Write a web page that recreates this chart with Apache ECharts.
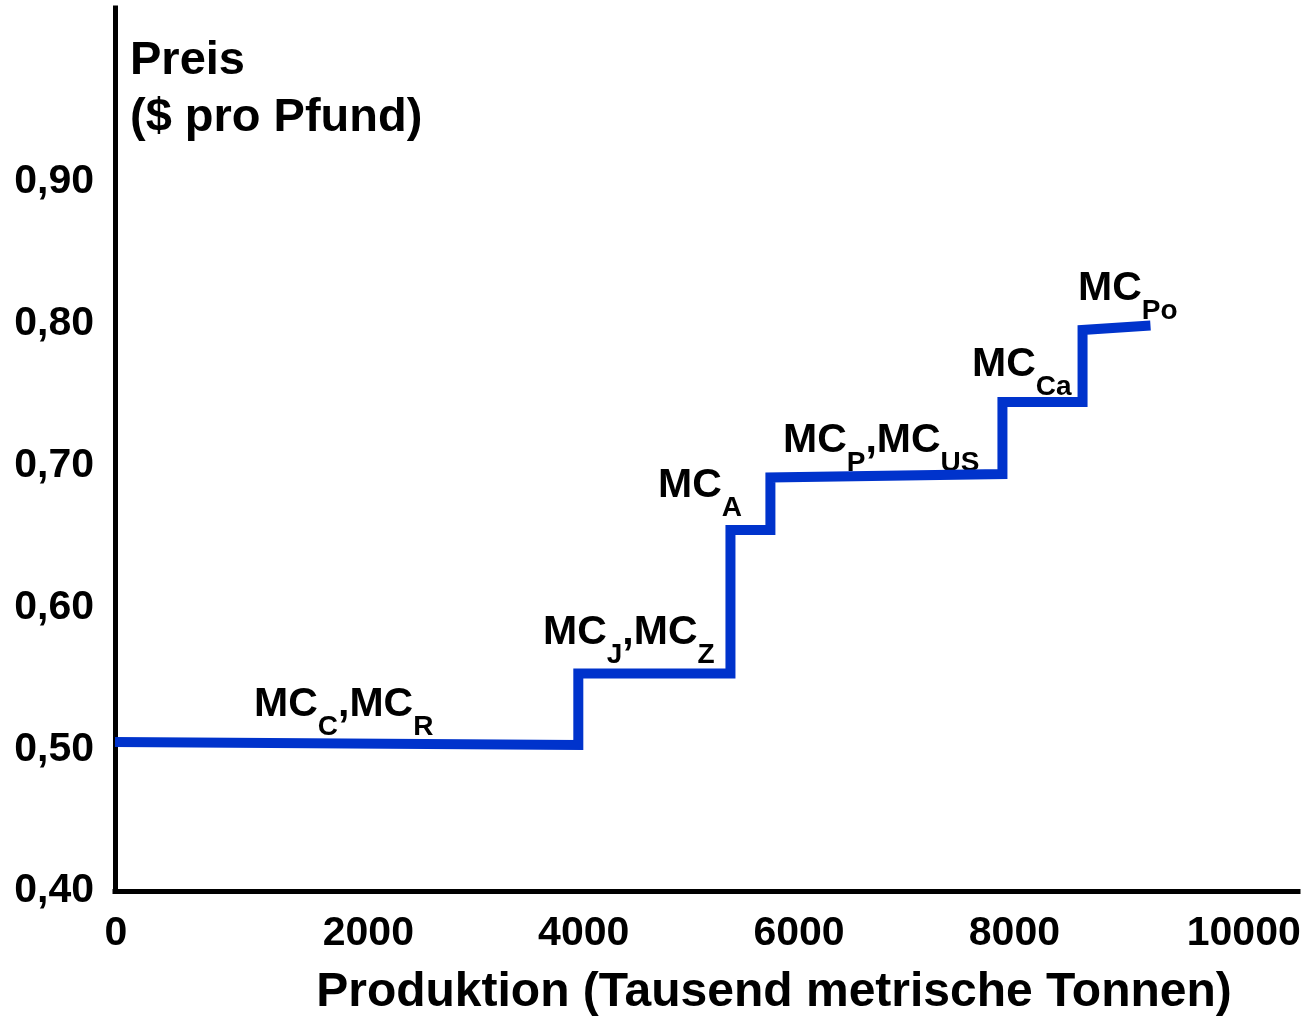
<!DOCTYPE html>
<html>
<head>
<meta charset="utf-8">
<title>Preis - Produktion</title>
<script src="https://cdn.jsdelivr.net/npm/echarts@6/dist/echarts.min.js"></script>
<style>
  html, body { margin: 0; padding: 0; background: #fff; }
  #chart { width: 1309px; height: 1016px; }
</style>
</head>
<body>
<div id="chart"></div>
<script>
// step curve vertices (production, price)
var stepX = [-353, 3950, 3950, 5363, 5363, 5734, 5734, 7889, 7889, 8633, 8633, 9264];
var stepY = [0.5051, 0.5030, 0.5534, 0.5534, 0.6546, 0.6546, 0.6916, 0.6941, 0.7448, 0.7448, 0.7956, 0.7988];

// MC labels: anchor (left edge, middle of "MC") and rich text
var mcX = [938, 3622, 4690, 5851, 7607, 8591];
var mcY = [0.5312, 0.5819, 0.6856, 0.7173, 0.7709, 0.8245];
var mcText = [
  '{m|MC}{s|C}{m|,MC}{s|R}',
  '{m|MC}{s|J}{m|,MC}{s|Z}',
  '{m|MC}{s|A}',
  '{m|MC}{s|P}{m|,MC}{s|US}',
  '{m|MC}{s|Ca}',
  '{m|MC}{s|Po}'
];

var xMin = -353, xMax = 10634;
var yMin = 0.4, yMax = 1.0227;
var yTickMax = 0.9;

var font = 'Liberation Sans, Arial, sans-serif';

function buildLine() {
  var out = [];
  stepX.forEach(function (x, i) { out.push([x, stepY[i]]); });
  return out;
}

function buildLabels() {
  var out = [];
  mcX.forEach(function (x, i) { out.push([x, mcY[i]]); });
  return out;
}

var chart = echarts.init(document.getElementById('chart'));

var option = {
  animation: false,
  backgroundColor: '#ffffff',
  title: {
    text: 'Preis\n($ pro Pfund)',
    left: 130,
    top: 33,
    padding: 0,
    textStyle: {
      fontFamily: font,
      fontSize: 47,
      fontWeight: 'bold',
      color: '#000',
      lineHeight: 57
    }
  },
  grid: {
    left: 115,
    right: 11,
    top: 8,
    bottom: 125,
    containLabel: false,
    outerBoundsMode: 'none'
  },
  xAxis: {
    type: 'value',
    min: xMin,
    max: xMax,
    splitNumber: 5,
    name: 'Produktion (Tausend metrische Tonnen)',
    nameLocation: 'middle',
    nameGap: 102,
    nameTextStyle: {
      fontFamily: font,
      fontSize: 48,
      fontWeight: 'bold',
      color: '#000',
      verticalAlign: 'middle',
      lineHeight: 48,
      padding: [0, 0, 0, 135]
    },
    axisLine: { show: true, onZero: false, lineStyle: { color: '#000', width: 5, cap: 'square' } },
    axisTick: { show: false },
    splitLine: { show: false },
    axisLabel: {
      margin: 22,
      color: '#000',
      fontFamily: font,
      fontSize: 41,
      fontWeight: 'bold',
      formatter: function (v) {
        if (v < 0 || v % 2000 !== 0) return '';
        if (v === 0) return '{z|0}';
        if (v === 10000) return '{t|10000}';
        return '{n|' + v + '}';
      },
      rich: {
        n: { fontFamily: font, fontSize: 41, fontWeight: 'bold', color: '#000' },
        z: { fontFamily: font, fontSize: 41, fontWeight: 'bold', color: '#000', padding: [0, 74, 0, 0] },
        t: { fontFamily: font, fontSize: 41, fontWeight: 'bold', color: '#000', padding: [0, 0, 0, 28] }
      }
    }
  },
  yAxis: {
    type: 'value',
    min: yMin,
    max: yMax,
    interval: 0.1,
    axisLine: { show: true, onZero: false, lineStyle: { color: '#000', width: 5, cap: 'square' } },
    axisTick: { show: false },
    splitLine: { show: false },
    axisLabel: {
      margin: 21,
      color: '#000',
      fontFamily: font,
      fontSize: 41,
      fontWeight: 'bold',
      formatter: function (v) {
        if (v > yTickMax + 1e-6) return '';
        return v.toFixed(2).replace('.', ',');
      }
    }
  },
  series: [
    {
      type: 'line',
      data: buildLine(),
      symbol: 'none',
      clip: false,
      silent: true,
      lineStyle: { color: '#0033cc', width: 10, join: 'miter', cap: 'butt' }
    },
    {
      type: 'scatter',
      data: buildLabels(),
      symbolSize: 0,
      silent: true,
      itemStyle: { color: '#000', opacity: 1 },
      label: {
        show: true,
        position: 'inside',
        align: 'left',
        verticalAlign: 'middle',
        color: '#000',
        textBorderWidth: 0,
        formatter: function (p) { return mcText[p.dataIndex]; },
        rich: {
          m: { fontFamily: font, fontSize: 41, fontWeight: 'bold', color: '#000', textBorderWidth: 0 },
          s: { fontFamily: font, fontSize: 28, fontWeight: 'bold', color: '#000', textBorderWidth: 0, padding: [44, 0, 0, 0] }
        }
      }
    }
  ]
};

chart.setOption(option);
</script>
</body>
</html>
